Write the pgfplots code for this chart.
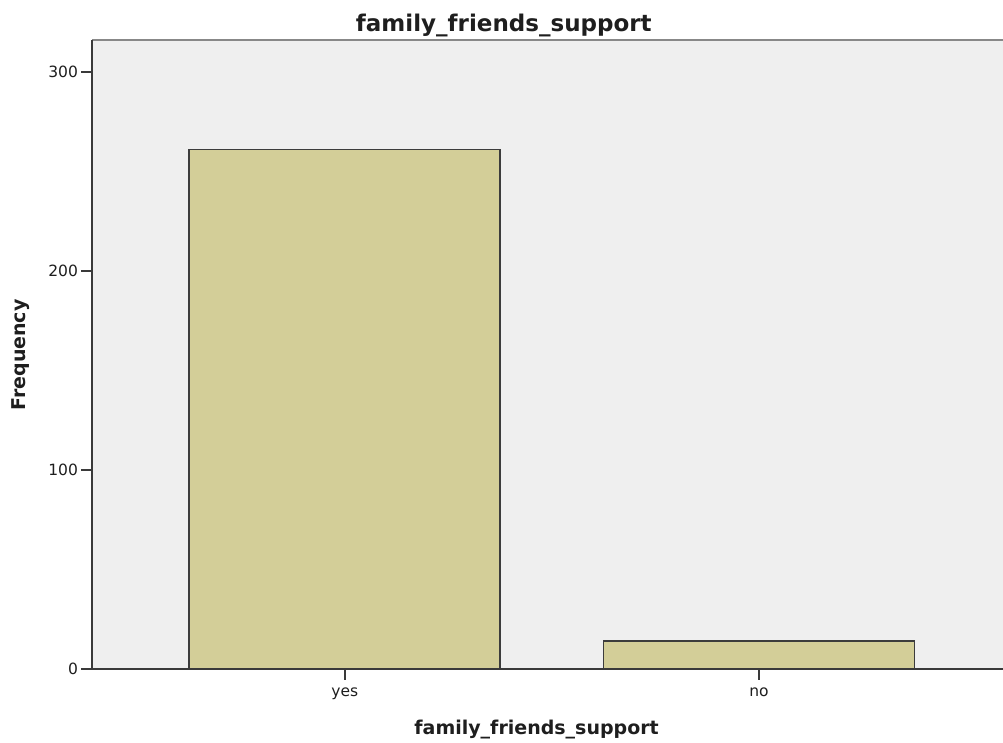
\documentclass[border=0pt]{standalone}
\usepackage{fontspec}
\setmainfont{DejaVu Sans}
\usepackage{pgfplots}
\pgfplotsset{compat=1.18}
\definecolor{bg}{HTML}{EFEFEF}
\definecolor{barfill}{HTML}{D3CE98}
\definecolor{baredge}{HTML}{3C3C3C}
\definecolor{axisdark}{HTML}{3A3A3A}
\definecolor{topgray}{HTML}{888888}
\definecolor{txt}{HTML}{1E1E1E}
\begin{document}
\begin{tikzpicture}[x=1pt,y=1pt]
\useasboundingbox (-92.5,-73.3) rectangle (910.5,668.7);
\begin{axis}[
  scale only axis, width=910pt, height=628.7pt,
  at={(0,0)}, anchor=south west,
  xmin=-0.609, xmax=1.588, ymin=0, ymax=316,
  xtick={0,1}, xticklabels={yes,no},
  ytick={0,100,200,300},
  xtick pos=bottom, ytick pos=left,
  tick align=outside,
  major tick length=11pt,
  tick style={axisdark, line width=1.7pt},
  axis line style={draw=none},
  axis background/.style={fill=bg},
  ybar, bar width=311pt,
  tick label style={font=\fontsize{15.5}{18}\selectfont, text=txt},
  xticklabel style={yshift=-5pt},
  /pgf/number format/assume math mode=true,
  title={family\_friends\_support},
  title style={font=\bfseries\fontsize{23}{27}\selectfont, text=txt, at={(rel axis cs:0.452,1.014)}, anchor=center},
  xlabel={family\_friends\_support},
  xlabel style={font=\bfseries\fontsize{19}{23}\selectfont, text=txt, at={(rel axis cs:0.488,-0.096)}, anchor=center},
  ylabel={Frequency},
  ylabel style={font=\bfseries\fontsize{19}{23}\selectfont, text=txt, at={(rel axis cs:-0.0785,0.499)}, anchor=center, rotate=0},
  clip=false,
]
\addplot[fill=barfill, draw=baredge, line width=1.7pt] coordinates {(0,261) (1,14)};
\draw[topgray, line width=2pt] (rel axis cs:0,1) -- (rel axis cs:1,1);
\draw[axisdark, line width=2pt] (rel axis cs:0,1) -- (rel axis cs:0,0) -- (rel axis cs:1,0);
\end{axis}
\end{tikzpicture}
\end{document}
